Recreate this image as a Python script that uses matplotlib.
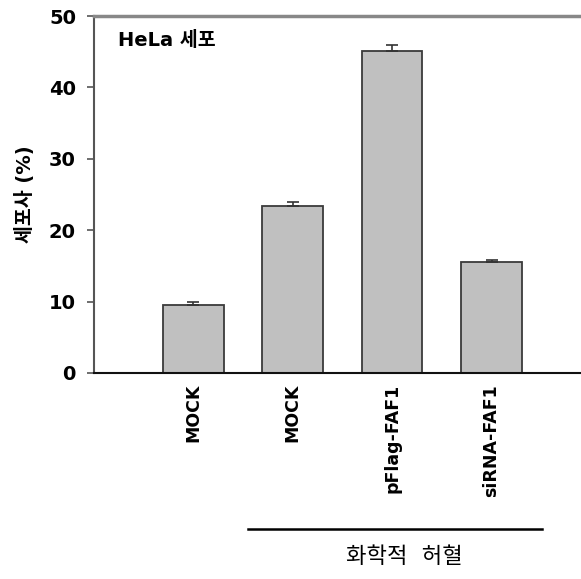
import matplotlib
matplotlib.use("Agg")
import matplotlib.pyplot as plt
import numpy as np

plt.rcParams['font.family'] = ['DejaVu Sans', 'Noto Sans CJK KR']

# data
categories = ["MOCK", "MOCK", "pFlag-FAF1", "siRNA-FAF1"]
values = [9.5, 23.4, 45.1, 15.5]
errors = [0.4, 0.5, 0.9, 0.3]
y_ticks = [0, 10, 20, 30, 40, 50]
group_label = "화학적  허혈"
cell_label = "HeLa 세포"
y_label = "세포사 (%)"

fig = plt.figure(figsize=(5.81, 5.79), dpi=100)
ax = fig.add_axes([94 / 581, 1 - 373 / 579, 1 - 94 / 581, (373 - 16) / 579])

x = np.arange(len(categories))
ax.bar(x, values, width=0.61, color='#c0c0c0', edgecolor='#3a3a3a', linewidth=1.3, zorder=2)
ax.errorbar(x, values, yerr=[np.zeros(len(errors)), errors], fmt='none',
            ecolor='#333333', elinewidth=1.2, capsize=4.5, capthick=1.2, zorder=3)

ax.set_xlim(-1, 3.9)
ax.set_ylim(0, 50)
ax.set_yticks(y_ticks)
ax.set_yticklabels([str(t) for t in y_ticks], fontsize=14, fontweight='bold')
ax.tick_params(axis='y', direction='out', length=5, width=1.2, color='#555555', pad=8)

ax.set_xticks(x)
ax.set_xticklabels(categories, rotation=90, fontsize=12.5, fontweight='bold', va='top')
ax.tick_params(axis='x', length=0, pad=8)

ax.spines['right'].set_visible(False)
ax.spines['top'].set_color('#888888')
ax.spines['top'].set_linewidth(2.5)
ax.spines['left'].set_color('#555555')
ax.spines['left'].set_linewidth(1.5)
ax.spines['bottom'].set_color('#111111')
ax.spines['bottom'].set_linewidth(1.5)

ax.set_ylabel(y_label, fontsize=14, fontweight='bold', labelpad=10)

ax.text(0.05, 0.93, cell_label, transform=ax.transAxes, fontsize=14,
        fontweight='bold', ha='left', va='center')

# group bracket under the treated bars
fig.add_artist(plt.Line2D([248 / 581, 542 / 581], [1 - 529 / 579, 1 - 529 / 579],
                          color='black', linewidth=1.8))
fig.text(404 / 581, 1 - 557 / 579, group_label, fontsize=16, ha='center', va='center')

fig.savefig("out.png", dpi=100)
